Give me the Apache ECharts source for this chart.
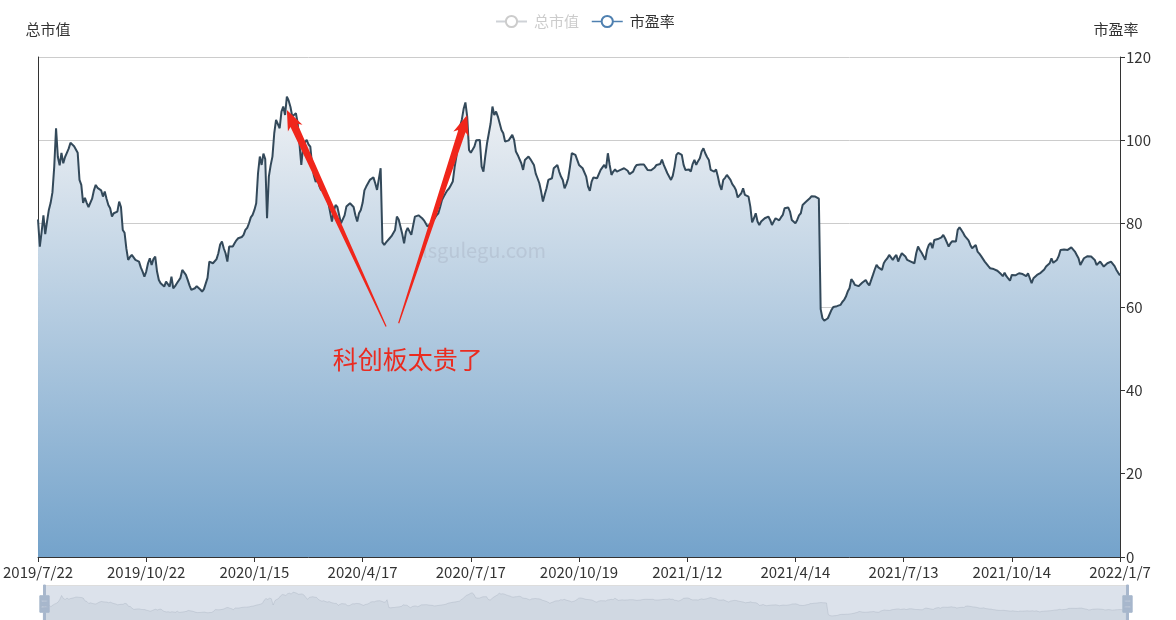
<!DOCTYPE html>
<html>
<head>
<meta charset="utf-8">
<script src="https://cdn.jsdelivr.net/npm/echarts@6/dist/echarts.min.js"></script>
<style>
html,body{margin:0;padding:0;background:#fff;}
#main{width:1176px;height:620px;}
</style>
</head>
<body>
<div id="main"></div>
<script>
// ---- data ----
const seriesNames = ['总市值', '市盈率'];
const axisNames = ['总市值', '市盈率'];
const firstDate = '2019-07-22';
const lastDate = '2022-01-07';
// A-share market holidays (weekdays) in the range
const holidays = [
  '2019-09-13','2019-10-01','2019-10-02','2019-10-03','2019-10-04','2019-10-07',
  '2020-01-01','2020-01-24','2020-01-27','2020-01-28','2020-01-29','2020-01-30','2020-01-31',
  '2020-04-06','2020-05-01','2020-05-04','2020-05-05','2020-06-25','2020-06-26',
  '2020-10-01','2020-10-02','2020-10-05','2020-10-06','2020-10-07','2020-10-08',
  '2021-01-01','2021-02-11','2021-02-12','2021-02-15','2021-02-16','2021-02-17',
  '2021-04-05','2021-05-03','2021-05-04','2021-05-05','2021-06-14','2021-09-20','2021-09-21',
  '2021-10-01','2021-10-04','2021-10-05','2021-10-06','2021-10-07',
  '2022-01-03'
];
// 市盈率 (PE), one value per trading day
const peValues = [
81.0,74.5,78.0,82.0,77.5,80.5,83.3,85.0,87.5,93.7,
102.9,96.0,94.0,97.0,94.5,96.0,97.0,98.0,99.4,99.0,
98.6,98.2,97.0,90.5,89.3,85.0,86.2,85.0,84.0,83.7,
86.0,88.0,89.3,88.6,88.3,88.0,86.5,87.7,86.0,84.5,
83.7,81.7,82.5,82.9,82.9,85.3,84.0,78.5,77.8,74.0,
71.3,72.0,72.5,72.5,71.3,71.0,70.9,69.5,68.5,67.3,
68.5,70.5,71.7,70.1,71.5,72.1,68.5,66.5,65.7,66.1,
64.9,66.1,65.5,64.9,67.3,64.5,65.0,65.7,66.1,67.0,
68.9,68.3,67.7,66.5,65.2,64.1,64.3,64.5,65.0,65.3,
64.2,63.7,64.3,64.5,67.0,70.9,70.7,70.5,70.9,71.5,
72.9,75.0,75.7,74.1,72.9,70.9,74.5,74.5,74.5,75.3,
76.0,76.5,76.5,76.8,77.3,78.5,79.0,80.1,81.5,82.1,
83.3,84.9,92.1,96.1,94.1,96.8,95.5,81.3,91.3,94.0,
96.1,101.7,104.9,104.5,102.9,106.9,108.1,106.1,110.5,109.5,
108.0,105.7,106.1,106.5,104.1,99.0,94.1,98.5,99.5,100.1,
99.0,98.5,94.0,91.5,90.0,91.0,89.0,88.0,89.0,87.0,
86.0,85.0,84.9,80.5,83.0,84.5,84.0,83.7,80.1,79.7,
82.0,84.1,83.9,84.9,84.5,84.0,82.0,80.5,82.5,83.3,
85.0,88.0,88.9,88.6,90.5,90.8,91.1,89.7,88.1,87.7,
93.3,75.5,74.9,75.5,75.7,76.5,77.0,77.3,78.5,81.7,
81.0,80.9,77.5,75.3,78.0,79.0,79.3,77.3,79.5,81.7,
81.8,82.0,82.1,81.3,80.8,80.5,79.3,79.6,80.1,80.8,
81.3,82.0,82.5,84.0,85.7,86.5,87.3,88.0,88.5,89.3,
90.1,93.5,96.1,100.1,103.3,104.9,107.5,109.1,105.7,97.7,
97.0,96.9,98.5,100.0,100.1,100.1,93.7,92.5,96.1,99.3,
101.7,104.1,108.1,106.1,106.9,105.7,104.1,102.5,101.7,99.7,
99.3,100.0,100.3,101.3,100.1,97.3,96.5,96.1,94.5,92.9,
95.3,95.5,96.1,95.5,95.3,94.1,92.0,90.9,89.7,87.7,
85.3,87.0,88.5,90.5,90.9,90.9,93.3,92.9,94.1,92.5,
91.3,90.5,88.5,89.5,90.9,93.7,96.9,97.3,96.5,95.3,
94.1,93.7,93.3,92.9,91.3,88.9,87.9,90.1,91.1,91.0,
90.9,90.5,92.9,93.3,94.1,93.3,96.9,94.1,91.7,92.5,
93.0,92.5,92.7,92.9,93.3,93.3,93.3,92.7,91.9,92.2,
92.5,93.5,94.1,94.3,94.2,94.1,94.2,94.3,92.9,92.7,
92.8,93.0,93.5,94.1,94.3,94.3,95.4,94.1,94.5,92.1,
91.7,90.5,91.5,93.7,96.5,97.0,97.3,96.5,94.1,92.9,
93.0,93.0,92.5,94.3,95.3,94.1,95.0,95.7,97.3,98.1,
96.9,96.0,95.3,92.9,92.5,92.5,93.0,91.3,89.3,88.1,
90.5,91.0,91.7,91.7,90.5,89.5,88.9,88.1,86.3,86.8,
87.3,88.5,86.9,86.7,86.5,84.1,80.3,81.3,82.5,80.5,
79.7,80.5,80.9,81.3,81.5,81.7,80.9,79.7,80.5,81.3,
80.9,80.8,81.5,82.1,83.7,83.8,83.9,82.9,80.9,80.5,
80.1,80.9,82.0,82.5,84.5,84.5,85.3,85.5,86.1,86.6,
86.9,86.5,86.3,86.0,59.5,57.3,56.7,57.0,57.3,57.7,
59.3,60.0,60.1,60.2,60.5,60.5,61.2,61.7,62.5,63.7,
64.5,66.7,66.1,65.3,64.9,65.0,65.3,65.8,66.1,66.5,
65.7,65.2,64.9,67.7,69.0,70.1,69.5,69.2,68.9,70.5,
71.2,71.7,72.5,72.5,71.3,72.0,72.5,70.9,72.0,72.9,
72.7,72.1,71.3,71.1,70.9,70.7,70.5,72.9,74.5,73.7,
73.0,72.2,71.3,73.7,74.9,75.4,74.1,76.1,76.5,76.3,
76.2,76.7,77.3,76.5,76.1,74.5,75.3,75.8,76.2,75.7,
78.5,79.1,78.5,77.8,77.0,76.7,76.0,74.9,74.1,74.3,
74.9,73.3,72.8,72.2,72.1,70.9,70.6,69.8,69.3,69.0,
69.1,69.3,68.7,68.3,67.9,67.4,68.2,67.4,67.0,66.3,
67.7,67.4,67.6,67.9,68.1,67.7,67.9,68.2,67.4,68.1,
66.9,65.7,66.9,67.3,67.7,67.9,68.2,68.5,69.0,69.7,
70.1,70.5,71.7,70.6,71.0,71.3,72.2,73.7,73.8,73.8,
73.8,73.7,74.0,74.3,74.5,73.3,72.5,71.7,70.1,70.5,
71.7,72.0,72.2,72.5,72.1,71.8,71.3,70.1,70.5,70.9,
70.5,69.7,70.1,70.5,70.8,70.9,71.0,69.8,68.9,68.2,
67.6
];
// 总市值: hidden in the reference (legend deselected), no values visible
const capValues = [];
const peTicks = [0, 20, 40, 60, 80, 100, 120];
const annotationText = '科创板太贵了';
const watermarkText = 'lsgulegu.com';
// arrows: [tail, head] in [category index, value]
const arrows = [
  [[193.4, 55.3], [137.9, 107.3]],
  [[200.2, 56.1], [238.4, 106.1]]
];
const annotationAnchor = [204.6, 47.3];

// ---- trading-day categories ----
function buildDates() {
  const out = [];
  const hs = new Set(holidays);
  const d = new Date(firstDate + 'T00:00:00Z');
  const end = new Date(lastDate + 'T00:00:00Z');
  while (d <= end) {
    const wd = d.getUTCDay();
    const y = d.getUTCFullYear(), m = d.getUTCMonth() + 1, day = d.getUTCDate();
    const key = y + '-' + String(m).padStart(2, '0') + '-' + String(day).padStart(2, '0');
    if (wd !== 0 && wd !== 6 && !hs.has(key)) out.push(y + '/' + m + '/' + day);
    d.setUTCDate(d.getUTCDate() + 1);
  }
  return out;
}
const dates = buildDates();

const FONT = '"Noto Sans CJK SC", "Noto Sans", sans-serif';
const FS = 15;
const chart = echarts.init(document.getElementById('main'), null, {renderer: 'canvas'});

const option = {
  animation: false,
  backgroundColor: '#fff',
  textStyle: {fontFamily: FONT},
  legend: {
    top: 9,
    left: 490,
    data: seriesNames,
    selected: {'总市值': false, '市盈率': true},
    itemWidth: 31,
    itemHeight: 14,
    itemGap: 12,
    textStyle: {fontSize: FS, color: '#333', fontFamily: FONT, padding: [0, 0, 0, 2]},
    inactiveColor: '#ccc',
    lineStyle: {color: '#4f80b0', width: 1.5},
    itemStyle: {borderColor: '#4f80b0', borderWidth: 1.5}
  },
  grid: {left: 38, right: 56, top: 57, bottom: 63, containLabel: false},
  xAxis: {
    type: 'category',
    data: dates,
    boundaryGap: false,
    axisLine: {lineStyle: {color: '#333'}},
    axisTick: {interval: 59, lineStyle: {color: '#333'}},
    axisLabel: {interval: 59, fontSize: FS, color: '#333', fontFamily: FONT, margin: 8, showMaxLabel: true},
    splitLine: {show: false}
  },
  yAxis: [
    {
      type: 'value',
      name: axisNames[0],
      position: 'left',
      nameGap: 20,
      nameTextStyle: {fontSize: FS, color: '#333', fontFamily: FONT, padding: [0, 0, 0, 20]},
      axisLine: {show: true, lineStyle: {color: '#333'}},
      axisTick: {show: false},
      axisLabel: {show: false},
      splitLine: {show: false}
    },
    {
      type: 'value',
      name: axisNames[1],
      position: 'right',
      min: peTicks[0],
      max: peTicks[peTicks.length - 1],
      interval: peTicks[1] - peTicks[0],
      nameGap: 20,
      nameTextStyle: {fontSize: FS, color: '#333', fontFamily: FONT, padding: [0, 8, 0, 0]},
      axisLine: {show: true, lineStyle: {color: '#333'}},
      axisTick: {show: true, lineStyle: {color: '#333'}},
      axisLabel: {fontSize: FS, color: '#333', fontFamily: FONT, margin: 6},
      splitLine: {show: true, lineStyle: {color: '#ccc'}}
    }
  ],
  dataZoom: [{
    type: 'slider',
    xAxisIndex: 0,
    start: 0,
    end: 100,
    left: 41,
    right: 50,
    top: 585,
    height: 38,
    showDetail: false,
    brushSelect: false,
    moveHandleSize: 0,
    borderColor: '#ddd',
    backgroundColor: 'rgba(47,69,84,0)',
    fillerColor: 'rgba(167,183,204,0.4)',
    handleIcon: 'path://M8.2,13.6V3.9H6.3v9.7H3.1v14.9h3.3v9.7h1.8v-9.7h3.3V13.6H8.2z M9.7,24.4H4.8v-1.4h4.9V24.4z M9.7,19.1H4.8v-1.4h4.9V19.1z',
    handleSize: '100%',
    handleStyle: {color: '#a7b7cc', borderColor: '#a7b7cc'},
    dataBackground: {
      lineStyle: {color: '#2f4554', width: 0.5, opacity: 0.3},
      areaStyle: {color: 'rgba(47,69,84,0.3)', opacity: 0.3}
    },
    selectedDataBackground: {
      lineStyle: {color: '#2f4554', width: 0.5, opacity: 0.3},
      areaStyle: {color: 'rgba(47,69,84,0.3)', opacity: 0.3}
    }
  }],
  series: [
    {
      name: seriesNames[1],
      type: 'line',
      yAxisIndex: 1,
      data: peValues,
      showSymbol: false,
      symbol: 'emptyCircle',
      symbolSize: 4,
      itemStyle: {color: '#4f80b0'},
      lineStyle: {color: '#33495a', width: 2},
      areaStyle: {
        opacity: 1,
        color: new echarts.graphic.LinearGradient(0, 0, 0, 1, [
          {offset: 0, color: '#eff1f4'},
          {offset: 1, color: '#74a3cb'}
        ])
      }
    },
    {
      name: seriesNames[0],
      type: 'line',
      yAxisIndex: 0,
      data: capValues,
      showSymbol: false,
      symbol: 'emptyCircle',
      itemStyle: {color: '#c23531'}
    }
  ]
};
chart.setOption(option);

// ---- annotations positioned through the chart's own scales ----
function px(p) { return chart.convertToPixel({xAxisIndex: 0, yAxisIndex: 1}, p); }
function arrowPoly(tail, head) {
  const T = px(tail), H = px(head);
  const dx = H[0] - T[0], dy = H[1] - T[1];
  const L = Math.sqrt(dx * dx + dy * dy);
  const ux = dx / L, uy = dy / L, nx = -uy, ny = ux;
  const headLen = 17, shaftW = 3.8, headW = 8, tailW = 0.6, back = 3;
  const S = [H[0] - ux * headLen, H[1] - uy * headLen];
  const B = [H[0] - ux * (headLen + back), H[1] - uy * (headLen + back)];
  return [
    [T[0] + nx * tailW, T[1] + ny * tailW],
    [S[0] + nx * shaftW, S[1] + ny * shaftW],
    [B[0] + nx * headW, B[1] + ny * headW],
    H,
    [B[0] - nx * headW, B[1] - ny * headW],
    [S[0] - nx * shaftW, S[1] - ny * shaftW],
    [T[0] - nx * tailW, T[1] - ny * tailW]
  ];
}
const graphics = [{
  type: 'text', x: 484, y: 250, silent: true, z: 50,
  style: {text: watermarkText, fill: 'rgba(160,170,185,0.35)', font: '20px ' + FONT, align: 'center', verticalAlign: 'middle'}
}];
arrows.forEach(function (a) {
  graphics.push({type: 'polygon', silent: true, z: 100, shape: {points: arrowPoly(a[0], a[1])}, style: {fill: '#f0261b'}});
});
const tp = px(annotationAnchor);
graphics.push({
  type: 'text', x: tp[0], y: tp[1], silent: true, z: 100,
  style: {text: annotationText, fill: '#ea2b20', font: '25px ' + FONT, align: 'center', verticalAlign: 'middle'}
});
chart.setOption({graphic: graphics});
</script>
</body>
</html>
